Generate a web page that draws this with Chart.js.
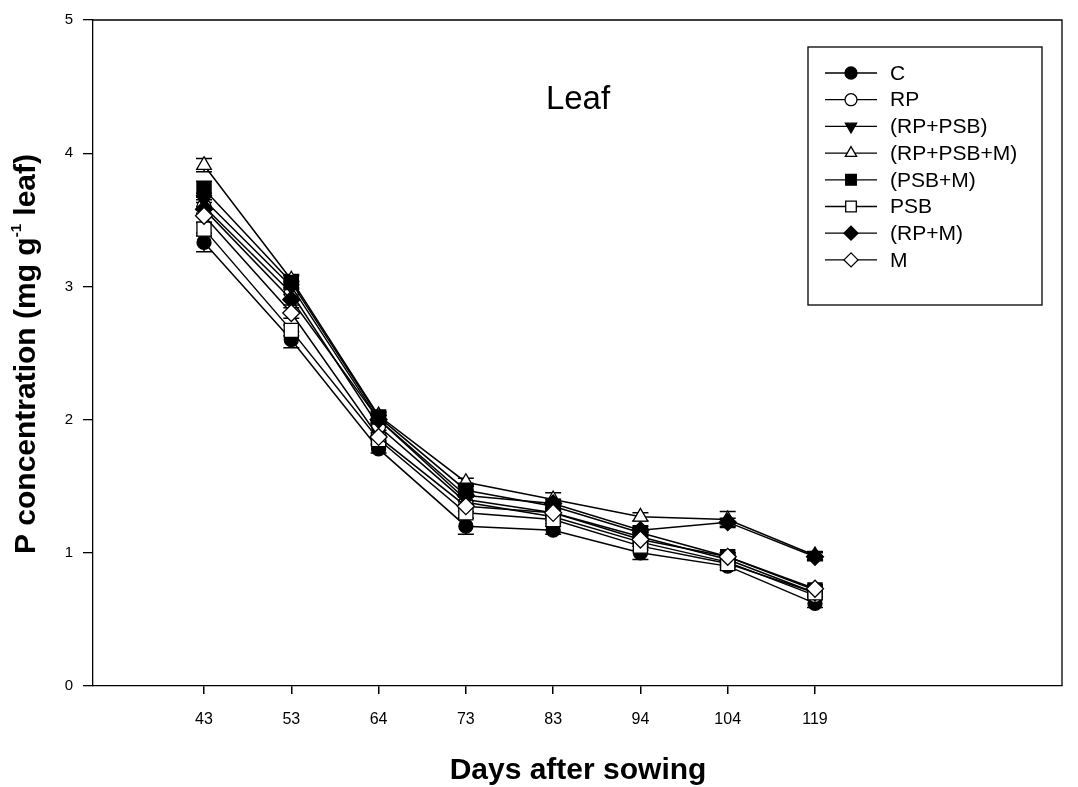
<!DOCTYPE html>
<html><head><meta charset="utf-8">
<script src="https://cdn.jsdelivr.net/npm/chart.js@4/dist/chart.umd.min.js"></script>
<style>html,body{margin:0;padding:0;background:#fff}#wrap{width:1078px;height:787px}</style>
</head><body><div id="wrap"><canvas id="c" width="1078" height="787"></canvas></div>
<script>
const days = ['43','53','64','73','83','94','104','119'];
const seriesNames = ['C','RP','(RP+PSB)','(RP+PSB+M)','(PSB+M)','PSB','(RP+M)','M'];
const valC      = [3.33, 2.60, 1.78, 1.20, 1.17, 1.00, 0.90, 0.62];
const valRP     = [3.60, 2.95, 1.95, 1.38, 1.27, 1.08, 0.93, 0.68];
const valRPPSB  = [3.65, 3.00, 2.00, 1.40, 1.30, 1.12, 0.95, 0.70];
const valRPPSBM = [3.91, 3.05, 2.03, 1.53, 1.40, 1.27, 1.25, 0.98];
const valPSBM   = [3.73, 3.03, 2.02, 1.47, 1.35, 1.15, 0.97, 0.72];
const valPSB    = [3.43, 2.67, 1.85, 1.30, 1.25, 1.05, 0.92, 0.70];
const valRPM    = [3.58, 2.90, 2.00, 1.43, 1.37, 1.17, 1.23, 0.97];
const valM      = [3.53, 2.80, 1.87, 1.35, 1.30, 1.10, 0.97, 0.73];
const errC      = [0.07, 0.06, 0.03, 0.06, 0.03, 0.05, 0.03, 0.03];
const errRP     = [0.05, 0.04, 0.03, 0.04, 0.03, 0.03, 0.03, 0.03];
const errRPPSB  = [0.05, 0.04, 0.03, 0.04, 0.03, 0.03, 0.03, 0.03];
const errRPPSBM = [0.05, 0.04, 0.03, 0.03, 0.05, 0.03, 0.06, 0.03];
const errPSBM   = [0.06, 0.05, 0.03, 0.04, 0.03, 0.03, 0.03, 0.03];
const errPSB    = [0.05, 0.04, 0.03, 0.04, 0.03, 0.03, 0.03, 0.03];
const errRPM    = [0.05, 0.04, 0.03, 0.04, 0.03, 0.03, 0.03, 0.03];
const errM      = [0.05, 0.04, 0.03, 0.04, 0.03, 0.03, 0.03, 0.03];
const yTicks = [0, 1, 2, 3, 4, 5];

const allVals = [valC, valRP, valRPPSB, valRPPSBM, valPSBM, valPSB, valRPM, valM];
const allErrs = [errC, errRP, errRPPSB, errRPPSBM, errPSBM, errPSB, errRPM, errM];
const styles = [
  {ps:'circle', rot:0, fill:true,  r:7,   lr:6},
  {ps:'circle', rot:0, fill:false, r:7,   lr:6},
  {ps:'triangle', rot:180, fill:true,  r:8.5, lr:6.5},
  {ps:'triangle', rot:0, fill:false, r:8.5, lr:6.5},
  {ps:'rect', rot:0, fill:true,  r:10,  lr:7.5},
  {ps:'rect', rot:0, fill:false, r:10,  lr:7.5},
  {ps:'rectRot', rot:0, fill:true,  r:8.5, lr:7},
  {ps:'rectRot', rot:0, fill:false, r:8.5, lr:7}
];
const FONT = '"Liberation Sans", Arial, sans-serif';

const datasets = allVals.map((v, i) => ({
  label: seriesNames[i],
  data: v.map((y, j) => ({x: j, y: y})),
  errs: allErrs[i],
  order: allVals.length - i,
  borderColor: '#000',
  borderWidth: 1.5,
  backgroundColor: styles[i].fill ? '#000' : '#fff',
  pointBackgroundColor: styles[i].fill ? '#000' : '#fff',
  pointBorderColor: '#000',
  pointBorderWidth: 1.3,
  pointStyle: styles[i].ps,
  pointRotation: styles[i].rot,
  pointRadius: styles[i].r,
  tension: 0
}));

const errorBars = {
  id: 'errorBars',
  beforeDatasetsDraw(chart) {
    const ctx = chart.ctx, xs = chart.scales.x, ys = chart.scales.y;
    ctx.save();
    ctx.strokeStyle = '#000'; ctx.lineWidth = 1.5;
    chart.data.datasets.forEach(ds => {
      ds.data.forEach((p, j) => {
        const e = ds.errs[j];
        const px = xs.getPixelForValue(p.x);
        const top = ys.getPixelForValue(p.y + e), bot = ys.getPixelForValue(p.y - e);
        ctx.beginPath();
        ctx.moveTo(px, top); ctx.lineTo(px, bot);
        ctx.moveTo(px - 8, top); ctx.lineTo(px + 8, top);
        ctx.moveTo(px - 8, bot); ctx.lineTo(px + 8, bot);
        ctx.stroke();
      });
    });
    ctx.restore();
  }
};

const decor = {
  id: 'decor',
  afterDraw(chart) {
    const ctx = chart.ctx, a = chart.chartArea;
    ctx.save();
    ctx.strokeStyle = '#000'; ctx.lineWidth = 1.3;
    ctx.beginPath();
    ctx.moveTo(a.left, a.top); ctx.lineTo(a.right, a.top); ctx.lineTo(a.right, a.bottom);
    ctx.stroke();
    ctx.fillStyle = '#000';
    ctx.font = '33px ' + FONT;
    ctx.textAlign = 'center'; ctx.textBaseline = 'middle';
    ctx.fillText('Leaf', 578, 100);
    ctx.font = 'bold 30px ' + FONT;
    ctx.fillText('Days after sowing', 578, 771);
    ctx.save();
    ctx.translate(27, 354);
    ctx.rotate(-Math.PI / 2);
    const p1 = 'P concentration (mg g', sup = '-1', p2 = ' leaf)';
    ctx.font = 'bold 30px ' + FONT; const w1 = ctx.measureText(p1).width, w3 = ctx.measureText(p2).width;
    ctx.font = 'bold 15px ' + FONT; const w2 = ctx.measureText(sup).width;
    let x0 = -(w1 + w2 + w3) / 2;
    ctx.textAlign = 'left';
    ctx.font = 'bold 30px ' + FONT; ctx.fillText(p1, x0, 0);
    ctx.font = 'bold 15px ' + FONT; ctx.fillText(sup, x0 + w1, -10);
    ctx.font = 'bold 30px ' + FONT; ctx.fillText(p2, x0 + w1 + w2, 0);
    ctx.restore();
    const lx = 808, ly = 47, lw = 234, lh = 258;
    ctx.fillStyle = '#fff'; ctx.fillRect(lx, ly, lw, lh);
    ctx.strokeStyle = '#000'; ctx.lineWidth = 1.3; ctx.strokeRect(lx, ly, lw, lh);
    ctx.font = '21px ' + FONT; ctx.textAlign = 'left'; ctx.textBaseline = 'middle';
    seriesNames.forEach((name, i) => {
      const y = 73 + i * 26.7;
      ctx.strokeStyle = '#000'; ctx.lineWidth = 1.3;
      ctx.beginPath(); ctx.moveTo(825, y); ctx.lineTo(877, y); ctx.stroke();
      ctx.fillStyle = styles[i].fill ? '#000' : '#fff';
      ctx.beginPath();
      Chart.helpers.drawPoint(ctx, {pointStyle: styles[i].ps, rotation: styles[i].rot, radius: styles[i].lr, borderWidth: 1.3}, 851, y);
      ctx.fillStyle = '#000';
      ctx.fillText(name, 890, y + 1);
    });
    ctx.restore();
  }
};

new Chart(document.getElementById('c'), {
  type: 'line',
  data: {datasets},
  plugins: [errorBars, decor],
  options: {
    responsive: false,
    animation: false,
    layout: {padding: {top: 20, right: 16, left: 0, bottom: 0}},
    plugins: {legend: {display: false}, tooltip: {enabled: false}},
    scales: {
      x: {
        type: 'linear', min: -1.272, max: 9.83,
        afterBuildTicks: s => { s.ticks = days.map((d, i) => ({value: i})); },
        afterFit: s => { s.height = 101; },
        ticks: {color: '#000', font: {family: FONT, size: 16}, padding: 16, maxRotation: 0,
          callback: v => days[v]},
        grid: {drawOnChartArea: false, drawTicks: true, tickLength: 8, color: '#000', lineWidth: 1.5},
        border: {display: true, color: '#000', width: 1.3}
      },
      y: {
        type: 'linear', min: 0, max: 5,
        afterBuildTicks: s => { s.ticks = yTicks.map(v => ({value: v})); },
        afterFit: s => { s.width = 93; },
        ticks: {color: '#000', font: {family: FONT, size: 15}, padding: 10},
        grid: {drawOnChartArea: false, drawTicks: true, tickLength: 10, color: '#000', lineWidth: 1.3},
        border: {display: true, color: '#000', width: 1.3}
      }
    }
  }
});
</script></body></html>
